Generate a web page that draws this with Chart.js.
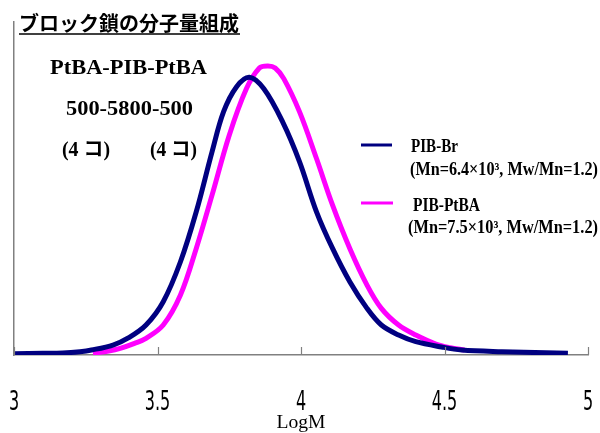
<!DOCTYPE html>
<html>
<head>
<meta charset="utf-8">
<script src="https://cdn.jsdelivr.net/npm/chart.js@4/dist/chart.umd.min.js"></script>
<style>
  html, body { margin: 0; padding: 0; background: #fff; }
  #wrap { width: 600px; height: 433px; }
</style>
</head>
<body>
<div id="wrap"><canvas id="gpcChart" width="600" height="433"></canvas></div>
<script>
// PIB-Br (navy)
const brLogM = [3.00, 3.10, 3.17, 3.23, 3.27, 3.345, 3.40, 3.46, 3.52, 3.58, 3.635, 3.69, 3.73, 3.775, 3.82, 3.87, 3.936, 3.995, 4.054, 4.11, 4.17, 4.23, 4.28, 4.34, 4.40, 4.49, 4.56, 4.70, 4.93];
const brValues = [0.4, 0.5, 0.6, 1.0, 1.5, 3, 5.2, 9, 16, 28, 43, 61, 73, 80.5, 83.4, 80, 70, 58, 43, 32, 22, 14, 9, 6, 4, 2.4, 1.5, 1, 0.5];

// PIB-PtBA (magenta)
const ptbaLogM = [3.275, 3.33, 3.37, 3.42, 3.46, 3.52, 3.58, 3.635, 3.69, 3.75, 3.81, 3.855, 3.885, 3.91, 3.94, 3.995, 4.054, 4.11, 4.17, 4.23, 4.28, 4.34, 4.40, 4.47, 4.52, 4.57];
const ptbaValues = [0.5, 1.2, 2, 3.5, 5, 9, 18, 32, 48, 66, 80, 86.2, 86.8, 86.2, 83, 73, 59, 45, 32, 21, 14, 9, 6, 3.3, 2.2, 1.5];

const xTicks = [3, 3.5, 4, 4.5, 5];
const xTickLabels = ['3', '3.5', '4', '4.5', '5'];

const toPoints = (xs, ys) => xs.map((x, i) => ({ x: x, y: ys[i] }));

const SERIF = '"Liberation Serif", "Times New Roman", "Noto Sans CJK JP", serif';

// draw text squeezed/stretched to a given width
function fitText(ctx, text, x, y, font, width, align) {
    ctx.save();
    ctx.font = font;
    const w = ctx.measureText(text).width;
    const sx = width ? width / w : 1;
    let left = x;
    if (align === 'center') left = x - (w * sx) / 2;
    ctx.translate(left, y);
    ctx.scale(sx, 1);
    ctx.textAlign = 'left';
    ctx.textBaseline = 'alphabetic';
    ctx.fillText(text, 0, 0);
    ctx.restore();
}

const annotations = {
    id: 'annotations',
    afterDraw(chart) {
        const ctx = chart.ctx;
        const xs = chart.scales.x;
        const area = chart.chartArea;
        ctx.save();
        ctx.fillStyle = '#000';

        // inward ticks on x axis
        ctx.strokeStyle = '#808080';
        ctx.lineWidth = 1.2;
        xTicks.forEach(v => {
            const px = Math.round(xs.getPixelForValue(v)) + 0.5;
            ctx.beginPath();
            ctx.moveTo(px, area.bottom);
            ctx.lineTo(px, area.bottom - 8);
            ctx.stroke();
        });

        // tick labels (narrow)
        xTicks.forEach((v, i) => {
            const px = xs.getPixelForValue(v);
            ctx.save();
            ctx.font = '27px "Liberation Sans Narrow", "DejaVu Sans Condensed", sans-serif';
            ctx.translate(px, area.bottom + 55);
            ctx.scale(0.66, 1);
            ctx.textAlign = 'center';
            ctx.fillText(xTickLabels[i], 0, 0);
            ctx.restore();
        });

        // axis title
        fitText(ctx, 'LogM', xs.getPixelForValue(4), 428, '19px ' + SERIF, 49, 'center');

        // heading
        fitText(ctx, 'ブロック鎖の分子量組成', 19, 31, 'bold 20px "Noto Sans CJK JP", sans-serif', 220);
        ctx.strokeStyle = '#000';
        ctx.lineWidth = 1.5;
        ctx.beginPath();
        ctx.moveTo(19, 34);
        ctx.lineTo(240, 34);
        ctx.stroke();

        fitText(ctx, 'PtBA-PIB-PtBA', 50, 74, 'bold 22px ' + SERIF, 157);
        fitText(ctx, '500-5800-500', 66, 115, 'bold 22px ' + SERIF, 127);
        fitText(ctx, '(4 コ)', 62, 156, 'bold 20px ' + SERIF, 48);
        fitText(ctx, '(4 コ)', 150, 156, 'bold 20px ' + SERIF, 47);

        // legend
        ctx.lineWidth = 3;
        ctx.strokeStyle = '#000080';
        ctx.beginPath();
        ctx.moveTo(361, 145);
        ctx.lineTo(392, 145);
        ctx.stroke();
        ctx.strokeStyle = '#ff00ff';
        ctx.beginPath();
        ctx.moveTo(361, 203);
        ctx.lineTo(393, 203);
        ctx.stroke();

        fitText(ctx, 'PIB-Br', 411, 152, 'bold 18px ' + SERIF, 47);
        fitText(ctx, '(Mn=6.4\u00d710\u00b3, Mw/Mn=1.2)', 410, 175, 'bold 18px ' + SERIF, 188);
        fitText(ctx, 'PIB-PtBA', 413, 211, 'bold 18px ' + SERIF, 67);
        fitText(ctx, '(Mn=7.5\u00d710\u00b3, Mw/Mn=1.2)', 408, 233, 'bold 18px ' + SERIF, 190);

        ctx.restore();
    }
};

new Chart(document.getElementById('gpcChart'), {
    type: 'line',
    data: {
        datasets: [
            {
                label: 'PIB-Br',
                data: toPoints(brLogM, brValues),
                borderColor: '#000080',
                borderWidth: 5,
                pointRadius: 0,
                tension: 0.35
            },
            {
                label: 'PIB-PtBA',
                data: toPoints(ptbaLogM, ptbaValues),
                borderColor: '#ff00ff',
                borderWidth: 5,
                pointRadius: 0,
                tension: 0.35
            }
        ]
    },
    options: {
        responsive: false,
        animation: false,
        layout: { padding: { left: 6, right: 12, top: 22, bottom: 70 } },
        scales: {
            x: {
                type: 'linear',
                min: 3,
                max: 5,
                ticks: { display: false, stepSize: 0.5 },
                grid: { display: false },
                border: { display: true, color: '#808080', width: 1.5 }
            },
            y: {
                min: 0,
                max: 100,
                ticks: { display: false },
                grid: { display: false },
                border: { display: true, color: '#808080', width: 1.5 }
            }
        },
        plugins: {
            legend: { display: false },
            tooltip: { enabled: false }
        }
    },
    plugins: [annotations]
});
</script>
</body>
</html>
